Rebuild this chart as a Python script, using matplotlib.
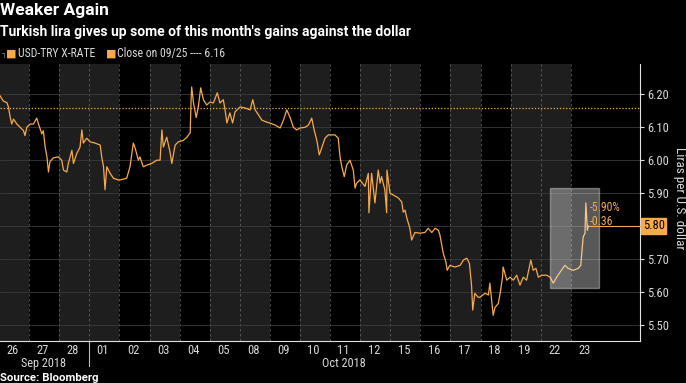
import datetime as dt
import matplotlib
matplotlib.use('Agg')
import matplotlib.pyplot as plt
from matplotlib import font_manager
from matplotlib.patches import Rectangle

# trading days shown on the x axis
days = ['2018-09-26', '2018-09-27', '2018-09-28', '2018-10-01', '2018-10-02',
        '2018-10-03', '2018-10-04', '2018-10-05', '2018-10-08', '2018-10-09',
        '2018-10-10', '2018-10-11', '2018-10-12', '2018-10-15', '2018-10-16',
        '2018-10-17', '2018-10-18', '2018-10-19', '2018-10-22', '2018-10-23']

# intraday USD-TRY (x in trading-day units, 0 = open of 26 Sep)
t = [0.03, 0.14, 0.26, 0.31, 0.37, 0.42, 0.48, 0.59, 0.70, 0.81, 0.86, 0.92,
     1.03, 1.14, 1.25, 1.31, 1.42, 1.47, 1.53, 1.59, 1.64, 1.69, 1.80, 1.97,
     2.08, 2.14, 2.25, 2.30, 2.42, 2.47, 2.58, 2.69, 2.75, 2.80, 2.91,
     3.02, 3.19, 3.36, 3.41, 3.47, 3.52, 3.58, 3.69, 3.80, 3.96,
     4.02, 4.24, 4.35, 4.46, 4.52, 4.63, 4.68, 4.79, 4.91,
     5.07, 5.24, 5.35, 5.41, 5.46, 5.57, 5.68, 5.74, 5.85, 5.96,
     6.12, 6.24, 6.35, 6.38, 6.40, 6.46, 6.55, 6.62, 6.70, 6.79, 6.90,
     7.01, 7.12, 7.25, 7.34, 7.45, 7.51, 7.57, 7.67, 7.76, 7.84,
     8.01, 8.17, 8.34, 8.43, 8.51, 8.62, 8.73, 8.89,
     9.00, 9.17, 9.34, 9.45, 9.56, 9.67, 9.78, 9.89,
     10.00, 10.17, 10.28, 10.39, 10.47, 10.56, 10.64, 10.72, 10.83, 10.94,
     11.16, 11.27, 11.33, 11.39, 11.47, 11.55, 11.66, 11.77, 11.83, 11.88, 11.99,
     12.16, 12.27, 12.29, 12.38, 12.49, 12.60, 12.66, 12.71, 12.82, 12.88, 12.89, 12.99,
     13.10, 13.27, 13.38, 13.43, 13.49, 13.55, 13.65, 13.71, 13.82, 13.99,
     14.15, 14.26, 14.38, 14.49, 14.60, 14.65, 14.76, 14.85, 14.89, 14.98,
     15.15, 15.32, 15.43, 15.54, 15.63, 15.70, 15.74, 15.81, 15.92, 15.98,
     16.15, 16.26, 16.31, 16.37, 16.42, 16.48, 16.59, 16.65, 16.73, 16.75, 16.87, 16.98,
     17.09, 17.20, 17.31, 17.42, 17.53, 17.67, 17.75, 17.84, 17.92,
     18.03, 18.20, 18.31, 18.42, 18.53, 18.64, 18.80, 18.91,
     19.08, 19.25, 19.33, 19.41, 19.47, 19.50, 19.55, 19.58]
rate = [6.196, 6.18, 6.175, 6.162, 6.13, 6.11, 6.125, 6.11, 6.10, 6.09, 6.075, 6.10,
        6.11, 6.11, 6.128, 6.11, 6.08, 6.09, 6.04, 6.01, 5.964, 5.995, 6.007, 6.01,
        6.00, 5.97, 5.964, 5.99, 6.03, 5.99, 6.02, 6.04, 6.092, 6.052, 6.067,
        6.056, 6.052, 6.046, 6.01, 5.98, 5.91, 5.98, 5.96, 5.945, 5.94,
        5.94, 5.945, 5.98, 6.052, 6.037, 6.00, 6.01, 5.98, 5.985,
        5.99, 6.00, 6.00, 6.092, 6.04, 6.07, 6.025, 5.99, 6.046, 6.056,
        6.06, 6.07, 6.083, 6.184, 6.223, 6.174, 6.13, 6.162, 6.22, 6.184, 6.168,
        6.177, 6.174, 6.205, 6.174, 6.184, 6.153, 6.113, 6.144, 6.113, 6.147,
        6.162, 6.159, 6.153, 6.184, 6.153, 6.138, 6.122, 6.116,
        6.113, 6.107, 6.098, 6.122, 6.153, 6.13, 6.10, 6.092,
        6.098, 6.10, 6.107, 6.128, 6.092, 6.06, 6.016, 6.037, 6.067, 6.077,
        6.077, 6.067, 6.01, 5.98, 5.95, 5.985, 6.00, 5.97, 5.915, 5.93, 5.94,
        5.92, 5.96, 5.84, 5.96, 5.87, 5.97, 5.93, 5.95, 5.91, 5.84, 5.97, 5.90,
        5.894, 5.885, 5.873, 5.842, 5.848, 5.824, 5.793, 5.757, 5.78, 5.778,
        5.78, 5.793, 5.78, 5.793, 5.787, 5.772, 5.717, 5.69, 5.665, 5.68,
        5.675, 5.68, 5.696, 5.702, 5.686, 5.62, 5.544, 5.595, 5.583, 5.583,
        5.595, 5.59, 5.626, 5.574, 5.528, 5.552, 5.564, 5.595, 5.644, 5.675, 5.635, 5.644,
        5.635, 5.65, 5.62, 5.644, 5.635, 5.696, 5.665, 5.671, 5.644,
        5.65, 5.65, 5.644, 5.626, 5.644, 5.659, 5.68, 5.671,
        5.665, 5.671, 5.68, 5.766, 5.778, 5.87, 5.787, 5.80]

prev_close = 6.16
last = 5.80
chg_pct = '-5.90%'
chg_abs = '-0.36'
yticks = [5.50, 5.60, 5.70, 5.80, 5.90, 6.00, 6.10, 6.20]

names = {f.name for f in font_manager.fontManager.ttflist}
narrow = 'Roboto'
for cand in ['Liberation Sans Narrow', 'Roboto Condensed', 'Open Sans Condensed']:
    if cand in names:
        narrow = cand
        break

orange = '#f6aa4a'
txt = '#d9d9d9'

fig = plt.figure(figsize=(6.86, 3.83), dpi=100, facecolor='black')
ax = fig.add_axes([0, 0.1097, 0.933, 0.7235])
ax.set_facecolor('black')
ax.set_xlim(0.03, 21.3)
ax.set_ylim(5.45, 6.293)

dates = [dt.date.fromisoformat(d) for d in days]
for i, d in enumerate(dates):
    if d.weekday() in (0, 2, 4):
        ax.axvspan(i, i + 1, color='#1e1e1e', lw=0, zorder=0)
    if i > 0:
        ax.axvline(i, color='#8a8a8a', lw=0.6, ls=(0, (3, 3)), alpha=0.6, zorder=1)

for y in yticks:
    ax.axhline(y, color='#3a3a3a', lw=0.6, zorder=1)

ax.axhline(prev_close, color=orange, lw=0.9, ls=(0, (1, 1.5)), zorder=2)
ax.plot(t, rate, color=orange, lw=0.9, zorder=3)

# highlight box over the latest move
ax.add_patch(Rectangle((18.31, 5.61), 1.62, 0.305, facecolor='white', alpha=0.35,
                       edgecolor='white', lw=1, zorder=4))
ax.text(19.62, 5.857, chg_pct, color=orange, fontsize=8.5, family=narrow,
        va='center', ha='left', zorder=5)
ax.text(19.62, 5.815, chg_abs, color=orange, fontsize=8.5, family=narrow,
        va='center', ha='left', zorder=5)
ax.plot([t[-1], 21.3], [last, last], color=orange, lw=0.8, zorder=5, clip_on=False)
ax.text(1.004, last, f'{last:.2f}', transform=ax.get_yaxis_transform(),
        fontsize=9, family=narrow, color='black', va='center', ha='left',
        bbox=dict(boxstyle='square,pad=0.12', fc=orange, ec=orange))

# axes
for s in ['top', 'left']:
    ax.spines[s].set_visible(False)
ax.spines['bottom'].set_color('#e0e0e0')
ax.spines['right'].set_color('#e0e0e0')
ax.yaxis.tick_right()
ax.set_yticks(yticks)
# the 5.80 level is shown by the value box instead of a tick label
ax.set_yticklabels(['' if abs(v - last) < 1e-9 else f'{v:.2f}' for v in yticks],
                   family=narrow, fontsize=9, color=txt)
ax.tick_params(axis='y', colors='#e0e0e0', length=3, width=0.8, pad=2, labelcolor=txt)
ax.set_xticks([i + 0.45 for i in range(len(days))])
ax.set_xticklabels([d.strftime('%d') for d in dates], family=narrow, fontsize=9, color=txt)
ax.tick_params(axis='x', length=0, pad=2)

ax.plot([3, 3], [0, -0.09], transform=ax.get_xaxis_transform(), color='#bbbbbb',
        lw=0.8, clip_on=False)
ax.text(1.47, -0.082, 'Sep 2018', transform=ax.get_xaxis_transform(), ha='center',
        va='center', family=narrow, fontsize=8.8, color=txt)
ax.text(11.46, -0.082, 'Oct 2018', transform=ax.get_xaxis_transform(), ha='center',
        va='center', family=narrow, fontsize=8.8, color=txt)

fig.text(0.991, 0.483, 'Liras per U.S. dollar', rotation=270, ha='center', va='center',
         family=narrow, fontsize=9.5, color=txt)

# titles, legend, source
fig.text(0.0, 0.993, 'Weaker Again', color='white', fontsize=12.5, weight='bold',
         family='Roboto', va='top', ha='left')
fig.text(0.0, 0.935, "Turkish lira gives up some of this month's gains against the dollar",
         color='white', fontsize=10, weight='bold', family='Roboto', va='top', ha='left')
fig.text(0.001, 0.86, '\u2510', color='#888888', fontsize=6, va='center', ha='left')
fig.text(0.009, 0.86, '\u25A0', color=orange, fontsize=8, va='center', ha='left')
fig.text(0.026, 0.86, 'USD-TRY X-RATE', color=txt, fontsize=8.5, family=narrow,
         va='center', ha='left')
fig.text(0.155, 0.86, '\u25A0', color=orange, fontsize=8, va='center', ha='left')
fig.text(0.170, 0.86, f'Close on 09/25 ---- {prev_close:.2f}', color=txt, fontsize=8.5,
         family=narrow, va='center', ha='left')
fig.text(0.0, 0.0, 'Source: Bloomberg', color='white', fontsize=8.2, weight='bold',
         family='Roboto', va='bottom', ha='left')

fig.savefig('out.png', dpi=100, facecolor='black')
